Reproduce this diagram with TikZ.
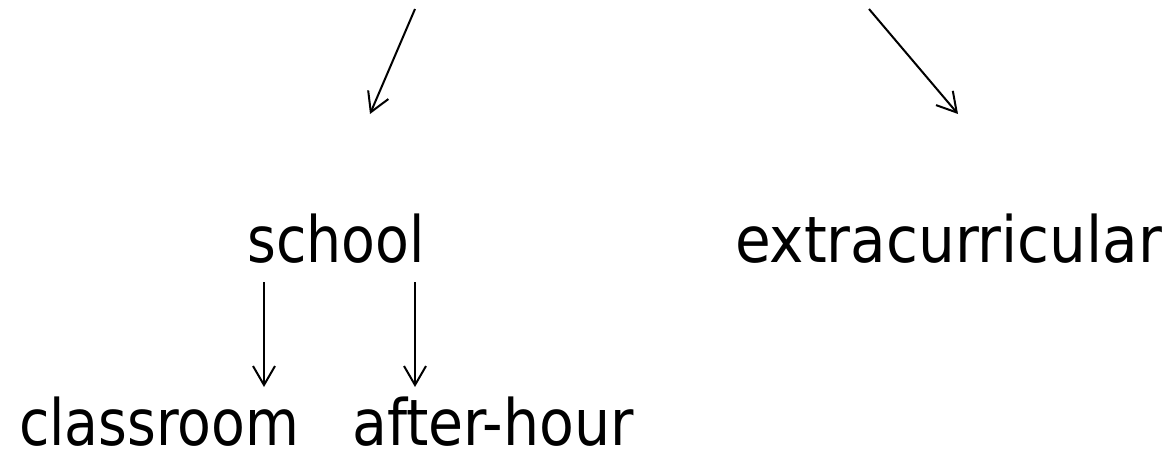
\documentclass[tikz,border=0pt]{standalone}
\usepackage{fontspec}
\setmainfont[FakeStretch=0.96]{DejaVu Sans Condensed}
\usetikzlibrary{arrows.meta}
\begin{document}
\begin{tikzpicture}[x=1pt,y=-1pt,
  lbl/.style={anchor=base west,inner sep=0pt,font=\fontsize{64}{70}\selectfont},
  arr/.style={line width=2pt,-{Straight Barb[length=19pt,width=22pt,line width=2pt]}}]
\useasboundingbox (0,0) rectangle (1169,453);
\node[lbl] (school) at (247,262) {school};
\node[lbl,xscale=1.05] (extra) at (735,262) {extracurricular};
\node[lbl] (class) at (19,445) {classroom};
\node[lbl,xscale=1.03] (after) at (352,445) {after-hour};
\coordinate (l1) at (415,9);
\coordinate (l2) at (370,114);
\coordinate (r1) at (869,9);
\coordinate (r2) at (958,114);
\coordinate (d1) at (264,282);
\coordinate (d2) at (264,387);
\coordinate (e1) at (415,282);
\coordinate (e2) at (415,387);
\draw[arr] (l1) -- (l2);
\draw[arr] (r1) -- (r2);
\draw[arr] (d1) -- (d2);
\draw[arr] (e1) -- (e2);
\end{tikzpicture}
\end{document}
